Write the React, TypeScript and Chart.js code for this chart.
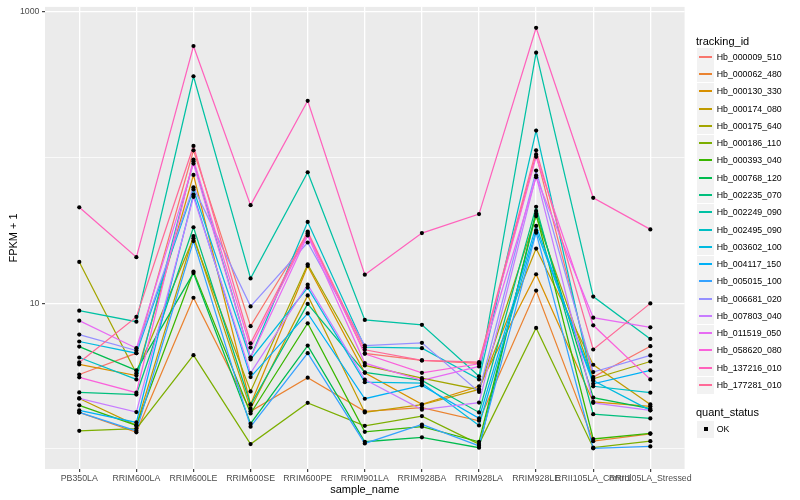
import React, { useEffect, useRef } from "react";
import { Chart, registerables } from "chart.js";

Chart.register(...registerables);

// ---------- data ----------
const sampleNames = [
  "PB350LA", "RRIM600LA", "RRIM600LE", "RRIM600SE", "RRIM600PE", "RRIM901LA",
  "RRIM928BA", "RRIM928LA", "RRIM928LE", "RRII105LA_Control", "RRII105LA_Stressed",
];

const trackingIds = [
  "Hb_000009_510", "Hb_000062_480", "Hb_000130_330", "Hb_000174_080", "Hb_000175_640",
  "Hb_000186_110", "Hb_000393_040", "Hb_000768_120", "Hb_002235_070", "Hb_002249_090",
  "Hb_002495_090", "Hb_003602_100", "Hb_004117_150", "Hb_005015_100", "Hb_006681_020",
  "Hb_007803_040", "Hb_011519_050", "Hb_058620_080", "Hb_137216_010", "Hb_177281_010",
];

const hb000009_510 = [3.24, 4.54, 112, 6.96, 30.3, 4.52, 4.05, 3.86, 105, 3.11, 5.07];
const hb000062_480 = [1.78, 1.30, 10.9, 1.81, 3.08, 1.81, 1.92, 1.56, 12.2, 1.13, 1.27];
const hb000130_330 = [3.80, 3.19, 75.9, 2.02, 18.0, 3.33, 2.02, 2.69, 15.8, 2.10, 1.96];
const hb000174_080 = [2.22, 1.45, 28.9, 1.89, 11.3, 1.78, 2.01, 2.56, 23.7, 3.78, 2.02];
const hb000175_640 = [19.2, 3.31, 27.9, 2.48, 18.5, 3.74, 3.06, 2.55, 39.6, 3.03, 3.98];
const hb000186_110 = [1.33, 1.38, 4.40, 1.08, 2.07, 1.44, 1.68, 1.08, 6.77, 1.02, 1.13];
const hb000393_040 = [1.99, 1.45, 16.5, 1.75, 7.28, 1.31, 1.42, 1.12, 41.1, 1.17, 1.28];
const hb000768_120 = [5.04, 3.46, 16.1, 1.49, 5.12, 1.12, 1.20, 1.02, 42.9, 2.25, 1.89];
const hb002235_070 = [2.44, 2.36, 33.2, 2.01, 9.88, 3.35, 2.95, 1.78, 45.9, 1.73, 1.62];
const hb002249_090 = [8.89, 7.47, 361, 14.8, 79.2, 7.68, 7.10, 3.15, 524, 11.1, 5.69];
const hb002495_090 = [4.24, 3.00, 94.2, 4.24, 36.1, 4.99, 4.91, 3.00, 153, 2.69, 2.43];
const hb003602_100 = [5.46, 4.54, 60.4, 4.11, 12.8, 2.87, 2.83, 1.45, 31.6, 2.95, 1.84];
const hb004117_150 = [1.84, 1.52, 55.7, 3.11, 8.51, 2.21, 2.73, 1.62, 33.9, 2.80, 3.46];
const hb005015_100 = [1.78, 1.33, 26.7, 1.42, 4.54, 1.09, 1.47, 1.05, 30.5, 1.01, 1.04];
const hb006681_020 = [6.09, 4.73, 62.5, 9.51, 26.1, 5.12, 5.35, 2.46, 81.3, 3.37, 4.38];
const hb007803_040 = [2.22, 1.79, 53.7, 3.31, 13.4, 2.99, 1.86, 2.08, 75.2, 2.07, 1.84];
const hb011519_050 = [7.59, 4.91, 90.8, 4.24, 29.2, 3.88, 2.95, 3.68, 73.2, 7.96, 6.83];
const hb058620_080 = [3.10, 2.43, 96.8, 4.96, 30.0, 4.50, 3.33, 3.84, 101, 7.05, 3.00];
const hb137216_010 = [45.5, 20.7, 582, 47.1, 245, 15.7, 30.3, 40.9, 776, 52.9, 32.1];
const hb177281_010 = [3.92, 8.05, 120, 5.31, 31.0, 4.79, 4.05, 3.94, 112, 4.81, 9.97];

const seriesValues = [
  hb000009_510, hb000062_480, hb000130_330, hb000174_080, hb000175_640,
  hb000186_110, hb000393_040, hb000768_120, hb002235_070, hb002249_090,
  hb002495_090, hb003602_100, hb004117_150, hb005015_100, hb006681_020,
  hb007803_040, hb011519_050, hb058620_080, hb137216_010, hb177281_010,
];

const yTickValues = [1, 10, 100, 1000];
const yTickLabels = ["", "10", "", "1000"];
const quantStatus = ["OK"];

// ---------- styling helpers ----------
const FONT = "'Liberation Sans', Arial, Helvetica, sans-serif";

function hcl(h: number, c: number, l: number): string {
  const hr = (h * Math.PI) / 180;
  const U = c * Math.cos(hr);
  const V = c * Math.sin(hr);
  const Xn = 95.047, Yn = 100, Zn = 108.883;
  const den = Xn + 15 * Yn + 3 * Zn;
  const un = (4 * Xn) / den;
  const vn = (9 * Yn) / den;
  const Y = l > 8 ? Yn * Math.pow((l + 16) / 116, 3) : (Yn * l) / 903.3;
  const u = U / (13 * l) + un;
  const v = V / (13 * l) + vn;
  const X = (9 * Y * u) / (4 * v);
  const Z = -X / 3 - 5 * Y + (3 * Y) / v;
  const x = X / 100, y = Y / 100, z = Z / 100;
  const lin = [
    3.240479 * x - 1.53715 * y - 0.498535 * z,
    -0.969256 * x + 1.875992 * y + 0.041556 * z,
    0.055648 * x - 0.204043 * y + 1.057311 * z,
  ];
  const out = lin.map((t) => {
    const g = t <= 0.0031308 ? 12.92 * t : 1.055 * Math.pow(t, 1 / 2.4) - 0.055;
    return Math.round(Math.min(1, Math.max(0, g)) * 255);
  });
  return `rgb(${out[0]},${out[1]},${out[2]})`;
}

const seriesColors = trackingIds.map((_, i) => hcl(15 + (360 / trackingIds.length) * i, 100, 65));

const panelBackground = {
  id: "panelBackground",
  beforeDraw(chart: any) {
    const { ctx, chartArea } = chart;
    ctx.save();
    ctx.fillStyle = "#EBEBEB";
    ctx.fillRect(chartArea.left, chartArea.top, chartArea.right - chartArea.left, chartArea.bottom - chartArea.top);
    ctx.restore();
  },
};

function isLabelled(v: number) {
  const idx = yTickValues.indexOf(v);
  return idx >= 0 && yTickLabels[idx] !== "";
}

export default function App() {
  const canvasRef = useRef<HTMLCanvasElement | null>(null);

  useEffect(() => {
    if (!canvasRef.current) return;
    Chart.defaults.font.family = FONT;

    const lineSets = seriesValues.map((vals, i) => ({
      label: trackingIds[i],
      data: vals.map((v, j) => ({ x: j, y: v })),
      borderColor: seriesColors[i],
      backgroundColor: seriesColors[i],
      borderWidth: 1.25,
      pointRadius: 0,
      fill: false,
      tension: 0,
      order: seriesValues.length - 1 - i,
    }));

    const pointSet = {
      label: quantStatus[0],
      data: seriesValues.flatMap((vals) => vals.map((v, j) => ({ x: j, y: v }))),
      showLine: false,
      pointRadius: 2.1,
      pointStyle: "circle",
      pointBackgroundColor: "#000000",
      pointBorderColor: "#000000",
      pointBorderWidth: 0,
      borderColor: "#000000",
      backgroundColor: "#000000",
      order: -1,
    };

    const chart = new Chart(canvasRef.current, {
      type: "line",
      data: { datasets: [...lineSets, pointSet] as any },
      plugins: [panelBackground],
      options: {
        animation: false,
        responsive: false,
        events: [],
        layout: { padding: { left: 0, top: 5, right: 115.4, bottom: 0 } },
        plugins: { legend: { display: false }, tooltip: { enabled: false } },
        scales: {
          x: {
            type: "linear",
            min: -0.6,
            max: sampleNames.length - 1 + 0.6,
            bounds: "data",
            afterBuildTicks: (axis: any) => {
              axis.ticks = sampleNames.map((_, i) => ({ value: i }));
            },
            afterFit: (axis: any) => {
              axis.height = 31;
            },
            border: { display: false },
            grid: {
              color: "#FFFFFF",
              lineWidth: 1.3,
              drawTicks: true,
              tickLength: 3,
              tickWidth: 1.1,
              tickColor: "#333333",
            },
            ticks: {
              autoSkip: false,
              maxRotation: 0,
              minRotation: 0,
              color: "#4D4D4D",
              font: { size: 8.8, lineHeight: 1 },
              padding: 2,
              callback: (v: any) => sampleNames[Math.round(Number(v))] ?? "",
            },
            title: {
              display: true,
              text: "sample_name",
              color: "#000000",
              font: { size: 11, lineHeight: 1.2 },
              padding: { top: 0, bottom: 3.4 },
            },
          },
          y: {
            type: "logarithmic",
            min: 0.728,
            max: 1080,
            bounds: "data",
            afterBuildTicks: (axis: any) => {
              axis.ticks = yTickValues.map((v) => ({ value: v }));
            },
            afterFit: (axis: any) => {
              axis.width = 45;
            },
            border: { display: false },
            grid: {
              color: "#FFFFFF",
              lineWidth: (ctx: any) => (ctx.tick && isLabelled(ctx.tick.value) ? 1.3 : 0.7),
              drawTicks: true,
              tickLength: 3,
              tickWidth: 1.1,
              tickColor: (ctx: any) => (ctx.tick && isLabelled(ctx.tick.value) ? "#333333" : "rgba(0,0,0,0)"),
            },
            ticks: {
              autoSkip: false,
              color: "#4D4D4D",
              font: { size: 8.8, lineHeight: 1 },
              padding: 2.5,
              callback: (v: any) => {
                const idx = yTickValues.indexOf(Number(v));
                return idx >= 0 ? yTickLabels[idx] : "";
              },
            },
            title: {
              display: true,
              text: "FPKM + 1",
              color: "#000000",
              font: { size: 11, lineHeight: 1.2 },
              padding: { top: 7.4, bottom: 0 },
            },
          },
        },
      } as any,
    });

    return () => chart.destroy();
  }, []);

  const rowH = 17.28;
  const firstKeyCenter = 56.7;
  const keyLeft = 697;
  const keySize = 17;

  return (
    <div
      style={{
        position: "fixed",
        left: 0,
        top: 0,
        width: 800,
        height: 500,
        background: "#FFFFFF",
        fontFamily: FONT,
      }}
    >
      <canvas
        ref={canvasRef}
        width={800}
        height={500}
        style={{ position: "absolute", left: 0, top: 0, width: 800, height: 500 }}
      />
      <div
        style={{
          position: "absolute",
          left: 696,
          top: 40.7 - 7,
          height: 14,
          lineHeight: "14px",
          fontSize: 11,
          color: "#000",
          whiteSpace: "nowrap",
        }}
      >
        tracking_id
      </div>
      {trackingIds.map((id, i) => {
        const cy = firstKeyCenter + rowH * i;
        const lineTop = Math.round(cy) - 1;
        return (
          <React.Fragment key={id}>
            <div
              style={{
                position: "absolute",
                left: keyLeft,
                top: Math.round(cy - keySize / 2),
                width: keySize,
                height: keySize,
                background: "#F2F2F2",
              }}
            />
            <div
              style={{
                position: "absolute",
                left: keyLeft + 2,
                top: lineTop,
                width: keySize - 4,
                height: 2,
                background: seriesColors[i],
              }}
            />
            <div
              style={{
                position: "absolute",
                left: 716.7,
                top: cy - 6,
                height: 12,
                lineHeight: "12px",
                fontSize: 8.8,
                color: "#000",
                whiteSpace: "nowrap",
              }}
            >
              {id}
            </div>
          </React.Fragment>
        );
      })}
      <div
        style={{
          position: "absolute",
          left: 696,
          top: 411.7 - 7,
          height: 14,
          lineHeight: "14px",
          fontSize: 11,
          color: "#000",
          whiteSpace: "nowrap",
        }}
      >
        quant_status
      </div>
      {quantStatus.map((s, i) => {
        const cy = 429.3 + rowH * i;
        return (
          <React.Fragment key={s}>
            <div
              style={{
                position: "absolute",
                left: keyLeft,
                top: Math.round(cy - keySize / 2),
                width: keySize,
                height: keySize,
                background: "#F2F2F2",
              }}
            />
            <div
              style={{
                position: "absolute",
                left: keyLeft + keySize / 2 - 2,
                top: Math.round(cy) - 2,
                width: 4,
                height: 4,
                background: "#000",
              }}
            />
            <div
              style={{
                position: "absolute",
                left: 716.7,
                top: cy - 6,
                height: 12,
                lineHeight: "12px",
                fontSize: 8.8,
                color: "#000",
                whiteSpace: "nowrap",
              }}
            >
              {s}
            </div>
          </React.Fragment>
        );
      })}
    </div>
  );
}
